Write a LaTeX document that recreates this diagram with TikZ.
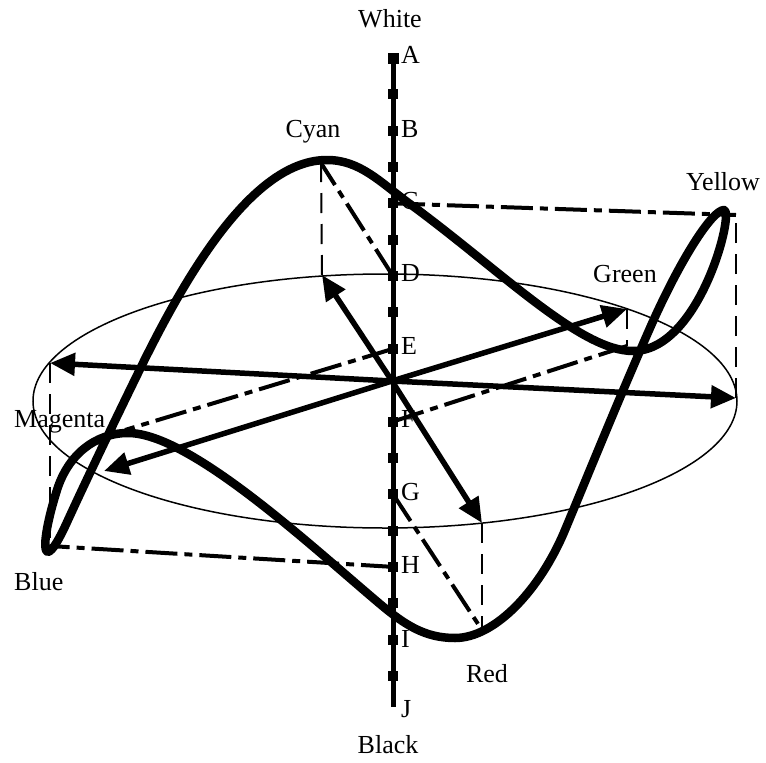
\documentclass[tikz,border=0pt]{standalone}
\usepackage{fontspec}
\setmainfont{Liberation Serif}
\usetikzlibrary{arrows.meta}
\begin{document}
\begin{tikzpicture}[x=1pt,y=-1pt,
  lbl/.style={font=\fontsize{26}{30}\selectfont, inner sep=0pt},
  axlbl/.style={lbl, anchor=base west},
  hue/.style={line width=5.5pt, -{Triangle[length=25pt,width=22pt]}},
  level/.style={line width=4pt, dash pattern=on 32pt off 7pt on 8pt off 7pt},
  drop/.style={line width=2pt, dash pattern=on 20pt off 11pt},
  tickbox/.style={fill=black, minimum size=10pt, inner sep=0pt, draw=none},
  huecurve/.style={line width=8.5pt, line join=round},
  disc/.style={line width=1.5pt}
]
\useasboundingbox (0,0) rectangle (766,763);

% axis
\coordinate (axtop) at (393,54);
\coordinate (axbot) at (393,707);
\draw[line width=5pt] (axtop) -- (axbot);
\foreach \k in {0,...,8,10,11,...,17}{
  \node[tickbox] (t\k) at (393,{58+36.35*\k}) {};
}
\node[tickbox, minimum size=11pt] at (t0) {};

% axis labels
\foreach \lab/\yy in {A/63,B/137,C/209,D/281,E/354,F/427,G/500,H/573,I/647,J/717}{
  \node[axlbl] (l\lab) at (401,\yy) {\lab};
}
\node[lbl, anchor=base] (white) at (390,27) {White};
\node[lbl, anchor=base] (black) at (388,753) {Black};

% disc
\coordinate (disccentre) at (385,401);
\draw[disc] (disccentre) ellipse [x radius=352, y radius=127];

% origin and arrow tips
\coordinate (O) at (392,381);
\coordinate (tY) at (736,398);
\coordinate (tB) at (50,363);
\coordinate (tG) at (627,309);
\coordinate (tM) at (104,471);
\coordinate (tC) at (322,275);
\coordinate (tR) at (482,523);

% colour points
\coordinate (pY) at (736,215);
\coordinate (pB) at (50,546);
\coordinate (pG) at (627,346);
\coordinate (pM) at (125,430);
\coordinate (pC) at (321,163);
\coordinate (pR) at (482,630);

% vertical drops
\draw[drop] (tY) -- (pY);
\draw[drop] (tB) -- (pB);
\draw[drop] (tG) -- (pG);
\draw[drop] (tC) -- (pC);
\draw[drop] (tR) -- (pR);

% level lines
\draw[level] (t4.center) -- (pY);
\draw[level] (t6.center) -- (pC);
\draw[level] (t8.center) -- (pM);
\draw[level] (t10.center) -- (pG);
\draw[level] (t12.center) -- (pR);
\draw[level] (t14.center) -- (pB);

% hue arrows
\draw[hue] (O) -- (tY);
\draw[hue] (O) -- (tB);
\draw[hue] (O) -- (tG);
\draw[hue] (O) -- (tM);
\draw[hue] (O) -- (tC);
\draw[hue] (O) -- (tR);

% colour curve
\draw[huecurve]
  (327,160) .. controls (360,160) and (380,182) .. (410,204)
            .. controls (500,270) and (580,351) .. (633,351)
            .. controls (700,351) and (735,210) .. (724,210)
            .. controls (712,210) and (680,260) .. (650,328)
            .. controls (620,396) and (590,470) .. (565,530)
            .. controls (540,590) and (495,638) .. (455,638)
            .. controls (425,638) and (405,625) .. (380,604)
            .. controls (310,545) and (190,433) .. (128,433)
            .. controls (95,433) and (68,455) .. (57,490)
            .. controls (39,547) and (41,580) .. (68,520)
            .. controls (90,472) and (120,410) .. (143,363)
            .. controls (190,268) and (255,160) .. (327,160) -- cycle;

% colour labels
\node[lbl, anchor=base] (lcyan) at (313,137) {Cyan};
\node[lbl, anchor=base] (lyellow) at (723,190) {Yellow};
\node[lbl, anchor=base] (lgreen) at (625,282) {Green};
\node[lbl, anchor=base west] (lmagenta) at (14,427) {Magenta};
\node[lbl, anchor=base west] (lblue) at (14,590) {Blue};
\node[lbl, anchor=base] (lred) at (487,682) {Red};
\end{tikzpicture}
\end{document}
